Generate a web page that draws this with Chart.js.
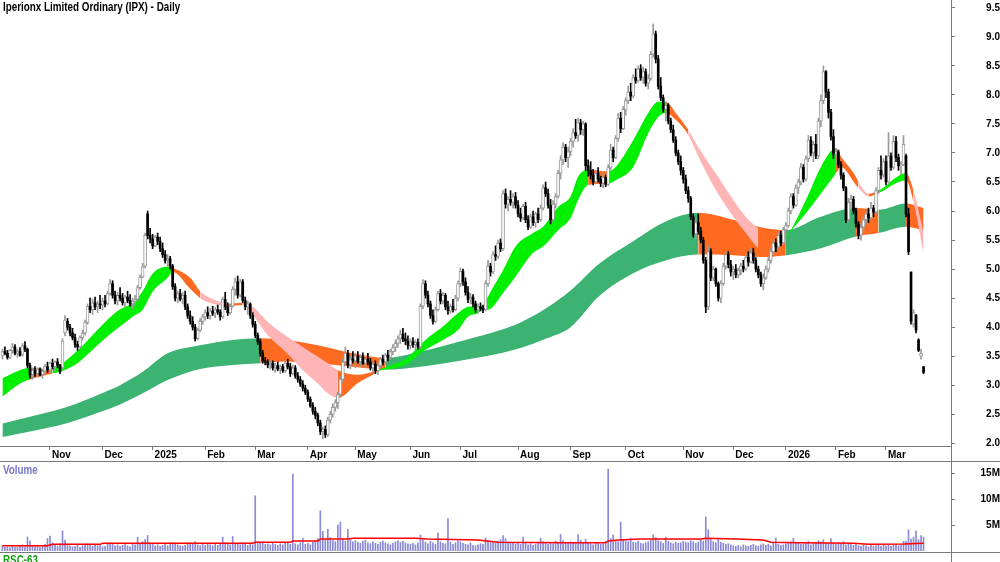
<!DOCTYPE html>
<html><head><meta charset="utf-8"><title>IPX Daily</title>
<script src="https://cdn.jsdelivr.net/npm/chart.js@4/dist/chart.umd.min.js"></script>
<style>
html,body{margin:0;padding:0;background:#fff;}
body{width:1000px;height:562px;overflow:hidden;position:relative;}
canvas{position:absolute;left:0;}
.txt{position:absolute;font-weight:bold;font-size:12px;line-height:14px;white-space:nowrap;transform-origin:0 0;}
.hl{position:absolute;left:0;width:1000px;height:1px;background:#7a7a7a;}
.vl{position:absolute;left:951px;top:0;width:1px;height:562px;background:#7a7a7a;}
</style></head><body>
<canvas id="main" width="1000" height="462" style="top:0"></canvas>
<canvas id="vol" width="1000" height="90" style="top:462px"></canvas>
<div class="hl" style="top:461px"></div>
<div class="hl" style="top:552px"></div>
<div class="vl"></div>
<div class="txt" id="title" style="left:3px;top:0;color:#000">Iperionx Limited Ordinary (IPX) - Daily</div>
<div class="txt" id="vlab" style="left:3px;top:463px;color:#7878c8">Volume</div>
<div class="txt" id="rlab" style="left:3px;top:553px;color:#13a013">RSC-63</div>
<script>
// ---------------- DATA ----------------
const MONTH_LABELS = ['Nov','Dec','2025','Feb','Mar','Apr','May','Jun','Jul','Aug','Sep','Oct','Nov','Dec','2026','Feb','Mar'];
const MONTH_IDX = [19,40,60,81,101,122,141,163,183,206,227,249,272,292,313,333,353];
const PRICE_TICKS = [2.0,2.5,3.0,3.5,4.0,4.5,5.0,5.5,6.0,6.5,7.0,7.5,8.0,8.5,9.0,9.5];
const VOL_TICKS = [5,10,15];

const OPEN = [
3.50,3.58,3.55,3.48,3.60,3.66,3.55,3.58,3.52,3.68,3.62,3.34,3.18,3.26,3.20,3.28,3.18,3.24,3.32,
3.26,3.38,3.32,3.40,3.34,3.30,3.90,4.10,4.00,3.90,3.82,3.70,3.66,3.82,3.90,4.08,4.36,4.30,4.42,4.35,4.40,
4.38,4.45,4.40,4.58,4.75,4.55,4.45,4.55,4.50,4.42,4.52,4.46,4.40,4.45,4.48,4.68,4.86,5.05,5.95,5.58,
5.52,5.40,5.55,5.48,5.35,5.25,5.15,5.18,5.05,4.70,4.50,4.58,4.48,4.55,4.35,4.20,4.10,4.00,3.80,3.95,4.10,
4.18,4.25,4.20,4.28,4.24,4.30,4.26,4.18,4.48,4.35,4.25,4.36,4.65,4.78,4.55,4.78,4.46,4.35,4.40,4.20,
4.05,3.86,3.75,3.55,3.42,3.40,3.35,3.38,3.30,3.34,3.28,3.32,3.25,3.38,3.32,3.20,3.30,3.16,3.10,3.02,2.95,
2.88,2.76,2.65,2.55,2.48,2.35,2.20,2.24,2.15,2.40,2.50,2.62,2.70,2.84,3.10,3.40,3.55,3.35,3.45,
3.42,3.50,3.40,3.48,3.38,3.45,3.40,3.30,3.36,3.25,3.34,3.45,3.40,3.52,3.48,3.58,3.65,3.72,3.80,3.88,3.80,3.76,
3.68,3.75,3.70,3.74,3.66,4.36,4.75,4.55,4.40,4.20,4.10,4.30,4.58,4.45,4.55,4.35,4.28,4.36,4.30,4.50,
4.75,4.96,4.78,4.60,4.48,4.52,4.40,4.30,4.35,4.32,4.30,4.75,5.05,4.95,5.25,5.22,5.45,5.35,6.30,6.12,6.20,6.15,6.25,
6.10,5.95,5.88,6.08,5.85,5.72,5.90,5.80,5.95,5.85,6.05,6.40,6.30,6.10,5.85,6.12,6.25,6.65,6.88,7.10,6.92,
7.02,7.20,7.35,7.30,7.52,7.40,7.50,6.78,6.70,6.62,6.50,6.65,6.55,6.48,6.58,6.46,6.75,7.05,6.92,7.25,7.60,7.42,
7.75,7.90,8.05,7.98,8.30,8.25,8.45,8.30,8.40,8.20,8.28,8.70,9.05,8.62,8.15,7.95,7.75,7.82,7.55,7.40,7.22,7.00,6.85,
6.70,6.55,6.35,6.22,5.90,5.60,5.80,5.65,5.50,5.15,4.35,5.30,4.85,5.00,4.75,4.50,4.75,5.05,5.25,5.08,
4.95,5.00,4.90,4.98,5.05,5.00,5.20,5.12,5.28,5.15,5.00,4.90,4.75,4.85,5.00,5.15,5.30,5.45,5.38,5.58,5.45,
5.68,5.75,6.00,6.25,6.10,6.40,6.50,6.75,6.55,6.90,7.22,7.00,7.15,6.95,7.55,7.90,8.40,8.05,7.70,7.28,
6.98,7.02,6.80,6.62,6.40,5.85,6.15,6.20,6.00,5.78,5.58,5.72,5.85,5.95,5.88,6.05,5.98,6.35,6.70,6.62,
6.85,6.50,6.95,6.75,7.20,6.92,6.78,6.80,6.95,5.95,4.95,4.05,4.20,3.78,3.50,3.32];

const HIGH = [
3.62,3.66,3.60,3.62,3.72,3.70,3.62,3.65,3.72,3.75,3.64,3.38,3.30,3.32,3.30,3.30,3.28,3.36,3.40,
3.40,3.45,3.42,3.46,3.36,3.80,4.20,4.15,4.05,3.98,3.88,3.76,3.85,3.95,4.12,4.40,4.50,4.48,4.52,4.45,4.55,
4.50,4.55,4.62,4.82,4.80,4.62,4.60,4.68,4.58,4.55,4.62,4.56,4.50,4.55,4.72,4.90,5.10,5.62,6.00,5.70,
5.60,5.58,5.62,5.55,5.45,5.32,5.25,5.22,5.08,4.75,4.62,4.65,4.60,4.62,4.40,4.28,4.18,4.05,3.98,4.15,4.22,
4.30,4.35,4.32,4.36,4.34,4.38,4.30,4.52,4.60,4.42,4.40,4.70,4.85,4.88,4.82,4.82,4.52,4.45,4.42,4.25,
4.10,3.90,3.80,3.60,3.48,3.44,3.42,3.42,3.38,3.40,3.35,3.36,3.42,3.45,3.38,3.35,3.34,3.22,3.15,3.08,3.00,
2.92,2.80,2.70,2.62,2.52,2.40,2.28,2.30,2.45,2.55,2.68,2.75,2.88,3.15,3.45,3.66,3.60,3.50,3.58,
3.55,3.58,3.52,3.56,3.50,3.55,3.46,3.40,3.42,3.38,3.48,3.52,3.55,3.60,3.62,3.70,3.78,3.85,3.95,3.98,3.90,3.85,
3.80,3.82,3.78,3.80,4.40,4.82,4.80,4.62,4.45,4.30,4.35,4.62,4.65,4.60,4.58,4.45,4.40,4.48,4.55,4.80,
5.02,5.00,4.85,4.70,4.58,4.56,4.45,4.40,4.42,4.38,4.80,5.15,5.10,5.30,5.40,5.50,5.52,6.35,6.38,6.25,6.35,6.30,6.32,
6.18,6.05,6.12,6.15,5.92,5.95,6.00,5.98,6.05,6.10,6.45,6.50,6.38,6.20,6.18,6.30,6.70,6.95,7.18,7.15,7.10,
7.25,7.42,7.58,7.60,7.58,7.55,7.52,6.88,6.85,6.72,6.70,6.75,6.60,6.65,6.62,6.80,7.15,7.10,7.30,7.68,7.70,7.80,
7.95,8.15,8.20,8.35,8.45,8.50,8.52,8.48,8.45,8.35,8.75,9.22,9.10,8.68,8.30,8.00,7.88,7.85,7.60,7.48,7.28,7.05,6.95,
6.75,6.62,6.42,6.25,5.95,5.85,5.95,5.72,5.55,5.20,5.40,5.35,5.05,5.02,4.78,4.80,5.10,5.30,5.30,5.15,
5.05,5.08,5.02,5.10,5.15,5.25,5.30,5.35,5.36,5.20,5.05,4.95,4.92,5.05,5.20,5.35,5.50,5.52,5.62,5.65,5.72,
5.80,6.05,6.30,6.30,6.45,6.55,6.82,6.80,6.95,7.30,7.28,7.20,7.32,7.60,8.00,8.50,8.42,8.10,7.75,7.40,
7.08,7.05,6.85,6.66,6.42,6.22,6.28,6.25,6.05,5.82,5.78,5.90,6.00,6.05,6.15,6.10,6.40,6.75,6.95,6.90,
6.95,7.35,7.00,7.30,7.28,6.98,6.85,7.30,6.98,6.05,4.95,4.30,4.22,3.80,3.62,3.32];

const LOW = [
3.45,3.52,3.45,3.46,3.55,3.52,3.48,3.50,3.50,3.58,3.30,3.12,3.10,3.15,3.14,3.16,3.12,3.20,3.22,
3.22,3.28,3.25,3.30,3.20,3.28,3.85,3.95,3.85,3.78,3.65,3.60,3.64,3.78,3.86,4.05,4.25,4.22,4.30,4.25,4.32,
4.30,4.35,4.38,4.55,4.50,4.40,4.38,4.45,4.38,4.35,4.42,4.36,4.32,4.38,4.45,4.65,4.85,5.02,5.52,5.45,
5.35,5.38,5.42,5.30,5.20,5.10,5.05,5.00,4.65,4.45,4.42,4.45,4.40,4.30,4.15,4.05,3.95,3.76,3.78,3.92,4.05,
4.12,4.15,4.14,4.20,4.16,4.22,4.12,4.15,4.30,4.20,4.22,4.34,4.55,4.50,4.52,4.42,4.30,4.22,4.15,4.00,
3.82,3.70,3.50,3.38,3.35,3.30,3.28,3.26,3.22,3.25,3.20,3.22,3.22,3.28,3.15,3.18,3.12,3.05,2.98,2.90,2.84,
2.72,2.62,2.50,2.42,2.30,2.15,2.08,2.10,2.12,2.35,2.45,2.55,2.60,2.80,3.05,3.35,3.30,3.28,3.38,
3.30,3.38,3.32,3.36,3.30,3.35,3.26,3.22,3.20,3.18,3.30,3.35,3.36,3.42,3.44,3.52,3.58,3.65,3.72,3.75,3.70,3.62,
3.62,3.65,3.60,3.62,3.64,4.32,4.50,4.35,4.15,4.05,4.08,4.28,4.40,4.40,4.30,4.22,4.24,4.26,4.28,4.45,
4.70,4.72,4.55,4.42,4.40,4.35,4.25,4.24,4.28,4.25,4.28,4.70,4.88,4.92,5.15,5.18,5.30,5.32,6.05,6.00,6.10,6.05,6.05,
5.90,5.82,5.85,5.80,5.68,5.70,5.75,5.72,5.80,5.82,6.02,6.25,6.05,5.78,5.82,6.05,6.22,6.55,6.80,6.85,6.75,
6.95,7.10,7.25,7.20,7.32,7.30,6.70,6.60,6.55,6.45,6.48,6.50,6.42,6.40,6.42,6.44,6.70,6.85,6.90,7.20,7.35,7.40,
7.65,7.85,7.90,7.95,8.20,8.22,8.25,8.20,8.15,8.10,8.25,8.65,8.55,8.10,7.90,7.70,7.55,7.50,7.35,7.18,6.95,6.80,6.62,
6.48,6.30,6.15,5.85,5.55,5.52,5.60,5.45,5.10,4.25,4.30,4.80,4.80,4.70,4.45,4.42,4.72,5.00,5.02,4.88,
4.82,4.85,4.85,4.90,4.95,4.98,5.05,5.10,5.10,4.95,4.85,4.70,4.64,4.82,4.95,5.10,5.25,5.30,5.35,5.40,5.42,
5.60,5.72,5.95,6.05,6.08,6.30,6.45,6.50,6.52,6.85,6.95,6.85,6.90,6.90,7.45,7.85,7.95,7.60,7.22,6.90,
6.80,6.75,6.55,6.35,5.80,5.82,6.05,5.95,5.72,5.52,5.50,5.65,5.78,5.80,5.85,5.90,5.95,6.30,6.55,6.58,
6.45,6.48,6.70,6.72,6.85,6.70,6.62,6.78,5.90,5.25,4.05,4.00,3.90,3.58,3.45,3.20];

const CLOSE = [
3.58,3.55,3.48,3.60,3.66,3.55,3.58,3.52,3.68,3.62,3.34,3.18,3.26,3.20,3.28,3.18,3.24,3.32,3.26,
3.38,3.32,3.40,3.34,3.24,3.76,4.12,4.00,3.90,3.82,3.70,3.66,3.82,3.90,4.08,4.36,4.30,4.42,4.35,4.40,4.38,
4.45,4.40,4.58,4.75,4.55,4.45,4.55,4.50,4.42,4.52,4.46,4.40,4.45,4.48,4.68,4.86,5.04,5.58,5.58,5.52,
5.40,5.55,5.48,5.35,5.25,5.15,5.18,5.05,4.70,4.50,4.58,4.48,4.55,4.35,4.20,4.10,4.00,3.80,3.95,4.10,4.18,
4.25,4.20,4.28,4.24,4.30,4.26,4.18,4.48,4.35,4.25,4.36,4.65,4.78,4.55,4.78,4.46,4.35,4.40,4.20,4.05,
3.86,3.75,3.55,3.42,3.40,3.35,3.38,3.30,3.34,3.28,3.32,3.25,3.38,3.32,3.20,3.30,3.16,3.10,3.02,2.95,2.88,
2.76,2.65,2.55,2.48,2.35,2.20,2.24,2.15,2.40,2.50,2.62,2.70,2.84,3.10,3.40,3.55,3.35,3.45,3.42,
3.50,3.40,3.48,3.38,3.45,3.40,3.30,3.36,3.25,3.34,3.45,3.40,3.52,3.48,3.58,3.65,3.72,3.80,3.88,3.80,3.76,3.68,
3.75,3.70,3.74,3.66,4.36,4.75,4.55,4.40,4.20,4.10,4.30,4.58,4.45,4.55,4.35,4.28,4.36,4.30,4.50,4.75,
4.96,4.78,4.60,4.48,4.52,4.40,4.30,4.35,4.32,4.30,4.75,5.05,4.95,5.25,5.22,5.45,5.35,6.30,6.12,6.20,6.15,6.25,6.10,
5.95,5.88,6.08,5.85,5.72,5.90,5.80,5.95,5.85,6.05,6.40,6.30,6.10,5.85,6.12,6.25,6.65,6.88,7.10,6.92,7.02,
7.20,7.35,7.30,7.52,7.40,7.50,6.78,6.70,6.62,6.50,6.65,6.55,6.48,6.58,6.46,6.75,7.05,6.92,7.25,7.60,7.42,7.75,
7.90,8.05,7.98,8.30,8.25,8.45,8.30,8.40,8.20,8.28,8.70,9.05,8.62,8.15,7.95,7.75,7.82,7.55,7.40,7.22,7.00,6.85,6.70,
6.55,6.35,6.22,5.90,5.60,5.80,5.65,5.50,5.15,4.35,5.30,4.85,5.00,4.75,4.50,4.75,5.05,5.25,5.08,4.95,
5.00,4.90,4.98,5.05,5.00,5.20,5.12,5.28,5.15,5.00,4.90,4.75,4.85,5.00,5.15,5.30,5.45,5.38,5.58,5.45,5.68,
5.75,6.00,6.25,6.10,6.40,6.50,6.75,6.55,6.90,7.22,7.00,7.15,6.95,7.55,7.90,8.40,8.05,7.70,7.28,6.98,
7.02,6.80,6.62,6.40,5.85,6.15,6.20,6.00,5.78,5.58,5.72,5.85,5.95,5.88,6.05,5.98,6.35,6.70,6.62,6.85,
6.50,6.95,6.75,7.20,6.92,6.78,6.80,7.15,5.95,5.30,4.10,4.25,3.95,3.60,3.55,3.22];

// volume in millions
const VOLUME = [
0.9,0.7,0.8,0.6,1.0,0.7,0.8,0.9,1.2,0.8,2.7,1.9,1.0,0.8,0.9,0.7,1.1,1.3,2.4,
2.9,1.6,1.2,0.9,1.4,3.9,2.1,1.3,1.0,0.8,0.9,1.1,0.7,1.0,1.2,1.4,1.1,0.9,1.3,1.0,1.2,
0.8,0.9,1.4,1.6,1.3,1.0,1.2,0.9,1.1,1.5,1.0,0.8,1.3,1.2,2.7,1.4,1.8,2.2,3.0,1.6,
1.3,1.0,1.2,0.9,1.1,1.4,1.0,1.3,1.6,1.5,1.2,1.0,0.9,1.1,1.4,1.6,1.3,1.8,1.2,1.0,1.3,
1.1,1.4,1.2,1.0,1.3,1.1,1.5,2.7,1.6,1.3,1.2,2.8,1.5,1.4,1.2,1.6,1.3,1.1,1.4,1.2,
10.7,1.8,1.6,1.5,1.3,1.4,1.2,1.5,1.3,1.1,1.4,1.2,1.5,1.7,1.3,14.9,1.4,1.2,1.6,2.5,1.3,
1.5,1.2,1.7,2.0,2.4,7.8,3.8,2.2,4.2,2.6,2.0,1.8,5.0,5.6,2.4,1.9,4.2,2.2,1.8,
2.0,1.7,1.5,1.9,2.1,1.6,1.4,1.8,1.5,1.3,1.7,1.9,1.6,1.4,1.2,1.5,1.8,2.0,1.7,1.9,1.6,1.4,
1.3,1.5,1.2,1.6,3.1,2.2,1.7,1.4,1.9,1.6,1.3,3.5,1.8,1.5,1.4,6.3,1.7,1.3,1.6,2.0,
1.8,1.5,1.3,1.2,1.6,1.1,1.0,1.2,1.4,1.3,2.5,2.0,1.6,1.8,1.5,1.9,2.2,3.0,2.4,1.8,1.5,1.7,1.4,
1.6,1.3,2.7,1.5,1.2,1.4,1.1,1.3,1.6,2.5,1.8,1.5,1.3,1.6,1.4,1.9,1.7,3.2,2.0,1.5,1.7,
1.8,1.6,1.5,3.2,2.1,1.6,2.3,1.7,1.4,1.2,1.6,1.5,1.3,1.4,1.9,15.9,2.4,3.1,2.0,1.8,5.6,2.2,
2.0,1.8,2.5,1.7,1.6,1.9,1.5,1.4,1.6,1.8,2.2,3.1,2.6,2.0,1.8,1.5,2.7,1.9,1.6,1.4,1.7,1.5,1.6,
1.9,1.7,1.6,2.0,1.8,1.5,1.7,2.1,1.9,6.6,4.1,2.2,1.8,1.6,2.5,1.7,1.5,1.3,1.4,1.2,
1.0,0.9,1.1,0.8,1.2,1.0,0.9,1.1,1.3,1.0,0.9,1.2,1.4,1.1,1.3,1.0,1.5,2.5,1.3,1.1,1.2,
1.4,1.6,1.8,2.5,1.5,1.7,1.3,1.4,1.6,1.9,1.2,1.5,1.7,2.0,1.8,2.2,1.6,1.4,2.4,1.5,
1.3,1.6,1.4,1.8,1.2,1.5,1.3,1.1,1.4,1.0,0.9,1.2,1.0,0.8,1.1,0.9,1.0,1.2,0.9,1.1,
1.0,1.2,0.9,1.1,1.3,1.0,1.2,1.9,1.9,4.1,2.3,2.7,3.9,2.2,3.0,2.7];

// volume moving average (red line), sampled at bar indices
const VOLMA_IDX = [0,18,20,39,40,100,101,115,116,126,127,138,140,165,170,190,198,226,241,242,246,255,279,281,293,304,307,318,330,340,346,360,368];
const VOLMA = [1.03,1.03,1.29,1.29,1.49,1.49,1.68,1.68,1.94,1.94,2.33,2.33,2.46,2.46,2.33,2.13,1.68,1.60,1.60,1.94,2.13,2.33,2.33,2.46,2.33,2.13,1.68,1.60,1.55,1.49,1.29,1.35,1.49];

// long-term ribbon edges, sampled at bar indices; colour code of segment starting at each sample
const LONG_IDX = [0,13,26,39,47,56,66,79,92,103,113,126,140,153,167,185,199,207,217,227,238,252,265,278,292,303,313,327,341,350,361,368];
const LONG_UP = [2.34,2.48,2.63,2.85,3.00,3.23,3.55,3.69,3.78,3.81,3.78,3.69,3.55,3.47,3.58,3.78,3.95,4.08,4.32,4.63,5.08,5.48,5.82,5.97,5.85,5.72,5.67,5.90,6.05,6.02,6.13,6.05];
const LONG_LO = [2.11,2.22,2.35,2.54,2.67,2.86,3.09,3.28,3.35,3.38,3.41,3.38,3.32,3.27,3.32,3.44,3.55,3.64,3.80,4.00,4.52,4.93,5.15,5.25,5.24,5.21,5.24,5.36,5.56,5.62,5.73,5.67];
const LONG_CLR = ['G','G','G','G','G','G','G','G','G','O','O','O','O','G','G','G','G','G','G','G','G','G','G','O','O','O','G','G','O','G','O','O'];

// short-term ribbon edges
const SHORT_IDX = [0,7,11,16,20,23,30,32,39,46,52,56,60,66,68,75,79,86,90,96,100,106,113,120,126,130,134,142,148,150,155,161,169,176,182,186,190,192,194,200,205,212,216,222,227,230,234,242,245,252,258,262,265,269,274,278,285,292,297,302,306,310,313,321,327,333,335,341,342,346,350,361,364,368];
const SHORT_UP = [3.12,3.26,3.30,3.28,3.30,3.35,3.60,3.68,4.00,4.28,4.42,4.62,4.92,5.04,5.02,4.85,4.62,4.45,4.40,4.42,4.35,4.09,3.86,3.66,3.49,3.38,3.26,3.18,3.23,3.26,3.34,3.45,3.78,4.01,4.24,4.35,4.36,4.36,4.53,4.98,5.39,5.62,5.73,6.07,6.25,6.59,6.71,6.68,6.76,7.22,7.69,7.88,7.88,7.69,7.40,7.10,6.65,6.19,5.90,5.70,5.62,5.55,5.58,6.19,6.76,7.08,6.94,6.59,6.50,6.30,6.35,6.65,6.35,5.63];
const SHORT_LO = [2.80,3.03,3.10,3.16,3.20,3.23,3.38,3.45,3.73,3.98,4.18,4.30,4.61,4.85,4.95,4.66,4.50,4.38,4.36,4.38,4.21,3.86,3.58,3.26,3.03,2.86,2.78,3.04,3.18,3.24,3.28,3.35,3.61,3.78,3.95,4.18,4.24,4.30,4.30,4.59,4.87,5.28,5.39,5.67,5.88,6.19,6.45,6.47,6.53,6.76,7.34,7.62,7.69,7.57,7.31,6.94,6.36,5.90,5.62,5.36,5.30,5.38,5.55,5.96,6.30,6.65,6.76,6.45,6.40,6.25,6.31,6.53,6.15,5.27];
const SHORT_CLR = ['G','G','O','O','G','G','G','G','G','G','G','G','G','G','O','O','P','P','O','P','P','P','P','P','P','P','O','O','O','G','G','G','G','G','G','G','G','O','G','G','G','G','G','G','G','G','O','G','G','G','G','G','O','O','P','P','P','P','P','O','O','O','G','G','G','O','O','O','P','O','G','O','P','P'];

// ---------------- CHECKS ----------------
const N = CLOSE.length;
[['OPEN',OPEN],['HIGH',HIGH],['LOW',LOW],['VOLUME',VOLUME]].forEach(([n,a])=>{ if(a.length!==N) throw new Error(n+' length '+a.length+' != '+N); });
[[LONG_IDX,LONG_UP,LONG_LO,LONG_CLR,'LONG'],[SHORT_IDX,SHORT_UP,SHORT_LO,SHORT_CLR,'SHORT']].forEach(([a,b,c,d,n])=>{ if(a.length!==b.length||a.length!==c.length||a.length!==d.length) throw new Error(n+' ribbon lengths '+[a.length,b.length,c.length,d.length]); });
if (VOLMA_IDX.length!==VOLMA.length) throw new Error('VOLMA lengths');

// ---------------- FONTS ----------------
function measure(f, t){ const c=document.createElement('canvas').getContext('2d'); c.font=f; return c.measureText(t).width; }
const probe = 'Iperionx Limited Ordinary 0123456789';
const monoW = measure('bold 40px monospace', probe);
let FAM = "'Liberation Sans', Arial, sans-serif", FS = 10, NARROW = false;
for (const n of ['Liberation Sans Narrow','Arial Narrow']) {
  if (measure(`bold 40px '${n}', monospace`, probe) !== monoW) { FAM = `'${n}', 'Liberation Sans', sans-serif`; FS = 12; NARROW = true; break; }
}
document.querySelectorAll('.txt').forEach(el => {
  el.style.fontFamily = NARROW ? FAM : "'Liberation Sans', Arial, sans-serif";
  if (!NARROW) el.style.transform = 'scaleX(0.82)';
});
const tickFont = {family: FAM, size: FS, weight: 'bold'};
const labelW = t => measure(`bold ${FS}px ${FAM}`, t);

// ---------------- LAYOUT CONSTANTS ----------------
const AXIS = '#7a7a7a';
const X_MIN = -0.975, X_MAX = 378.97;
const Y_MIN = 1.9535, Y_MAX = 9.634;
const VOL_MAX = 17.25;
const AXIS_W = 49, TICK_L = 4, LABEL_RIGHT = 47;
const CLR_LONG = {G:'#3cb371', O:'#ff6a21'};
const CLR_SHORT = {G:'#00f000', O:'#ff6a21', P:'#ffb5b5'};
const UP_GRAY = '#9a9a9a';

Chart.defaults.font.family = FAM;

const pts = (idx, vals) => idx.map((x, k) => ({x, y: vals[k]}));
const upIdx = [], dnIdx = [];
for (let i = 0; i < N; i++) (CLOSE[i] >= OPEN[i] ? upIdx : dnIdx).push(i);

const ribbon = (idx, up, lo, clr, map, ord) => ([
  {type:'line', data: pts(idx, up), fill: '+1', order: ord+1, borderWidth: 0, borderColor:'rgba(0,0,0,0)', pointRadius: 0,
   backgroundColor: map[clr[0]], cubicInterpolationMode: 'monotone',
   segment: {backgroundColor: c => map[clr[c.p0DataIndex]]}},
  {type:'line', data: pts(idx, lo), fill: false, order: ord, borderWidth: 0, borderColor:'rgba(0,0,0,0)', pointRadius: 0,
   cubicInterpolationMode: 'monotone'}
]);

const fixY = s => { s.width = AXIS_W; s.paddingTop = 0; s.paddingBottom = 0; };

new Chart(document.getElementById('main'), {
  type: 'bar',
  data: { datasets: [
    ...ribbon(LONG_IDX, LONG_UP, LONG_LO, LONG_CLR, CLR_LONG, 7),
    ...ribbon(SHORT_IDX, SHORT_UP, SHORT_LO, SHORT_CLR, CLR_SHORT, 5),
    {type:'bar', order: 3, grouped: false, barThickness: 1,
     data: CLOSE.map((c, i) => ({x: i, y: [LOW[i], HIGH[i]]})),
     backgroundColor: CLOSE.map((c, i) => c >= OPEN[i] ? UP_GRAY : '#000')},
    {type:'bar', order: 2, grouped: false, barThickness: 3, borderWidth: 1, borderSkipped: false, minBarLength: 1,
     data: upIdx.map(i => ({x: i, y: [OPEN[i], CLOSE[i]]})), backgroundColor: '#fff', borderColor: UP_GRAY},
    {type:'bar', order: 1, grouped: false, barThickness: 2, minBarLength: 1,
     data: dnIdx.map(i => ({x: i, y: [OPEN[i], CLOSE[i]]})), backgroundColor: '#000'}
  ]},
  options: {
    responsive: false, animation: false, devicePixelRatio: 1, events: [],
    layout: {padding: 0},
    plugins: {legend: {display: false}, tooltip: {enabled: false}},
    scales: {
      x: {
        type: 'linear', min: X_MIN, max: X_MAX, offset: false,
        afterBuildTicks: s => { s.ticks = MONTH_IDX.map(v => ({value: v})); },
        afterFit: s => { s.height = 16; s.paddingLeft = 0; s.paddingRight = 0; },
        ticks: {autoSkip: false, maxRotation: 0, minRotation: 0, align: 'start', labelOffset: 2, padding: -1,
                color: '#000', font: tickFont, callback: (v, i) => MONTH_LABELS[i]},
        grid: {drawOnChartArea: false, drawTicks: true, tickLength: TICK_L, color: AXIS, offset: false},
        border: {display: true, color: AXIS}
      },
      y: {
        position: 'right', min: Y_MIN, max: Y_MAX,
        afterBuildTicks: s => { s.ticks = PRICE_TICKS.map(v => ({value: v})); },
        afterFit: fixY,
        ticks: {autoSkip: false, crossAlign: 'far', padding: LABEL_RIGHT - TICK_L - labelW('9.5'),
                color: '#000', font: tickFont, callback: v => Number(v).toFixed(1)},
        grid: {drawOnChartArea: false, tickLength: TICK_L, color: AXIS},
        border: {display: true, color: AXIS}
      }
    }
  }
});

new Chart(document.getElementById('vol'), {
  type: 'bar',
  data: { datasets: [
    {type:'line', order: 0, data: pts(VOLMA_IDX, VOLMA), borderColor: '#ff0000', borderWidth: 1.5, pointRadius: 0, fill: false},
    {type:'bar', order: 1, barThickness: 1, data: VOLUME.map((v, i) => ({x: i, y: v})), backgroundColor: '#8a8ad8'}
  ]},
  options: {
    responsive: false, animation: false, devicePixelRatio: 1, events: [],
    layout: {padding: {top: 0, bottom: 1, left: 0, right: 0}},
    plugins: {legend: {display: false}, tooltip: {enabled: false}},
    scales: {
      x: {type: 'linear', min: X_MIN, max: X_MAX, offset: false, display: false},
      y: {
        position: 'right', min: 0, max: VOL_MAX,
        afterBuildTicks: s => { s.ticks = VOL_TICKS.map(v => ({value: v})); },
        afterFit: fixY,
        ticks: {autoSkip: false, crossAlign: 'far', padding: LABEL_RIGHT - TICK_L - labelW('15M'),
                color: '#000', font: tickFont, callback: v => v + 'M'},
        grid: {drawOnChartArea: false, tickLength: TICK_L, color: AXIS},
        border: {display: true, color: AXIS}
      }
    }
  }
});
</script></body></html>
